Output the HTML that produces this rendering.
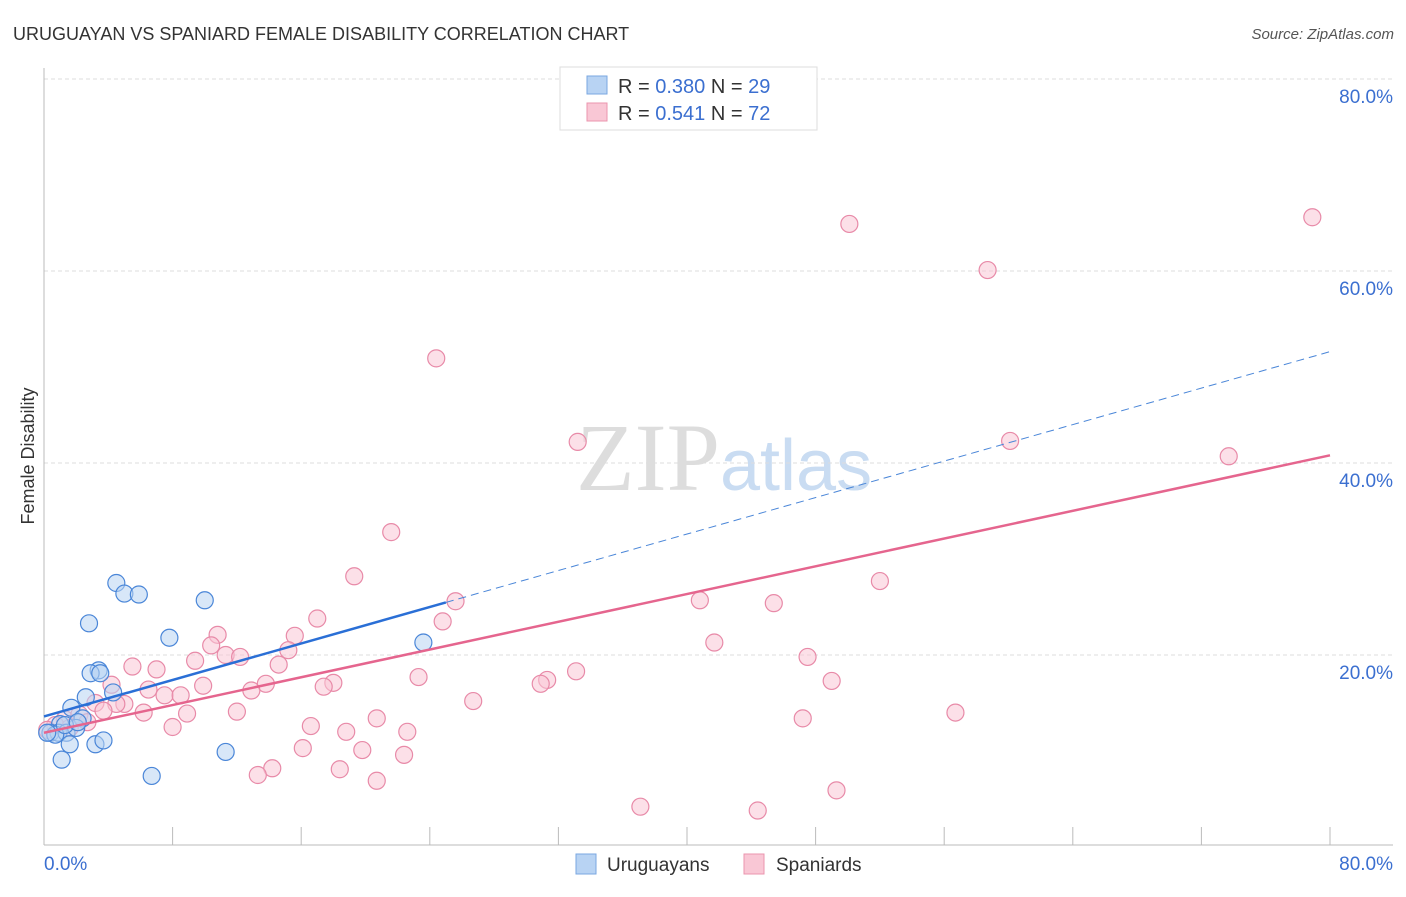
<!DOCTYPE html>
<html><head><meta charset="utf-8"><style>
body{margin:0;background:#fff;font-family:"Liberation Sans",sans-serif;}
</style></head><body>
<svg width="1406" height="892" xmlns="http://www.w3.org/2000/svg" font-family="Liberation Sans, sans-serif">
<text x="13" y="40" font-size="18" fill="#333">URUGUAYAN VS SPANIARD FEMALE DISABILITY CORRELATION CHART</text>
<text x="1394" y="39" font-size="15" fill="#555" font-style="italic" text-anchor="end">Source: ZipAtlas.com</text>
<text x="720" y="490" font-size="96" fill="#ddd" text-anchor="end" font-family="Liberation Serif, serif">ZIP</text>
<text x="720" y="490" font-size="72" fill="#c9dcf2">atlas</text>
<g id="grid"></g>
<g id="axes"></g>
<g id="marks"></g>
<text x="34" y="456" font-size="18" fill="#333" text-anchor="middle" transform="rotate(-90 34 456)">Female Disability</text>
<g>
<rect x="560" y="67" width="257" height="63" fill="#fff" stroke="#ddd"/>
<rect x="587" y="76" width="20" height="18" fill="#b8d3f3" stroke="#7aa7e0"/>
<rect x="587" y="103" width="20" height="18" fill="#f9c7d5" stroke="#eb94ae"/>
<text x="618" y="93" font-size="20" fill="#333">R = <tspan fill="#3b6fd0">0.380</tspan>   N = <tspan fill="#3b6fd0">29</tspan></text>
<text x="618" y="120" font-size="20" fill="#333">R =  <tspan fill="#3b6fd0">0.541</tspan>   N = <tspan fill="#3b6fd0">72</tspan></text>
</g>
<g>
<rect x="576" y="854" width="20" height="20" fill="#b8d3f3" stroke="#7aa7e0"/>
<text x="607" y="871" font-size="19" fill="#333">Uruguayans</text>
<rect x="744" y="854" width="20" height="20" fill="#f9c7d5" stroke="#eb94ae"/>
<text x="776" y="871" font-size="19" fill="#333">Spaniards</text>
</g>
</svg>
<script>
const yTicks=[20,40,60,80];
const yTickLabels=["20.0%","40.0%","60.0%","80.0%"];
const xTickCount=10;
const blueX=[4.5,5.0,5.9,10.0,2.8,7.8,23.6,3.4,2.9,3.5,4.3,2.6,1.7,2.4,1.0,0.4,0.9,1.4,2.0,1.6,3.2,3.7,1.1,11.3,6.7,0.7,0.2,1.3,2.1];
const blueY=[27.5,26.4,26.3,25.7,23.3,21.8,21.3,18.4,18.1,18.1,16.1,15.6,14.5,13.4,12.8,11.9,11.9,11.9,12.4,10.7,10.7,11.1,9.1,9.9,7.4,11.7,11.9,12.7,13.0];
const pinkX=[50.1,78.9,58.7,24.4,33.2,60.1,73.7,21.6,19.3,52.0,25.6,40.8,45.4,17.0,24.8,10.8,15.6,41.7,10.4,15.2,9.4,11.3,12.2,14.6,47.5,5.5,7.0,33.1,23.3,31.3,30.9,49.0,18.0,17.4,13.8,9.9,6.5,4.2,7.5,8.5,12.9,26.7,3.2,5.0,4.5,3.7,6.2,8.9,12.0,56.7,47.2,20.7,16.6,18.8,22.6,8.0,1.3,2.2,0.7,1.6,2.7,0.2,16.1,19.8,22.4,14.2,18.4,13.3,20.7,37.1,44.4,49.3];
const pinkY=[64.9,65.6,60.1,50.9,42.2,42.3,40.7,32.8,28.2,27.7,25.6,25.7,25.4,23.8,23.5,22.1,22.0,21.3,21.0,20.5,19.4,20.0,19.8,19.0,19.8,18.8,18.5,18.3,17.7,17.4,17.0,17.3,17.1,16.7,17.0,16.8,16.4,16.9,15.8,15.8,16.3,15.2,15.0,14.9,14.9,14.2,14.0,13.9,14.1,14.0,13.4,13.4,12.6,12.0,12.0,12.5,13.3,13.8,12.7,12.4,13.0,12.2,10.3,10.1,9.6,8.2,8.1,7.5,6.9,4.2,3.8,5.9];
const blueTrend=[13.6,51.6]; // y at x=0 and x=80
const blueSolidEnd=25;
const pinkTrend=[11.9,40.8];
const NS="http://www.w3.org/2000/svg";
const X=v=>44+v*1286/80, Y=v=>847-v*9.6;
function mk(t,a,p){const e=document.createElementNS(NS,t);for(const k in a)e.setAttribute(k,a[k]);p.appendChild(e);return e;}
const grid=document.getElementById('grid'),axes=document.getElementById('axes'),marks=document.getElementById('marks');
yTicks.forEach((t,i)=>{
 const l=mk('line',{x1:44,x2:1393,y1:Y(t),y2:Y(t),stroke:'#ddd','stroke-dasharray':'4,3'},grid);
 
 
 const tx=mk('text',{x:1393,y:Y(t)+24,'font-size':19,fill:'#3b6fd0','text-anchor':'end'},grid);
 tx.textContent=yTickLabels[i];
 
 
});
let a=mk('line',{x1:44,x2:44,y1:68,y2:845,stroke:'#bbb'},axes);


a=mk('line',{x1:44,x2:1393,y1:845,y2:845,stroke:'#bbb'},axes);


for(let i=1;i<=xTickCount;i++){const t=mk('line',{x1:X(i*8),x2:X(i*8),y1:827,y2:845,stroke:'#bbb'},axes);
 
 }
let xl=mk('text',{x:44,y:870,'font-size':19,fill:'#3b6fd0'},axes);xl.textContent='0.0%';


xl=mk('text',{x:1393,y:870,'font-size':19,fill:'#3b6fd0','text-anchor':'end'},axes);xl.textContent='80.0%';


function dots(xs,ys,fill,stroke,name){xs.forEach((x,i)=>{const c=mk('circle',{cx:X(x),cy:Y(ys[i]),r:8.5,fill:fill,'fill-opacity':0.55,stroke:stroke,'stroke-width':1.2},marks);
 
 });}
dots(pinkX,pinkY,'#f9c7d5','#e88aa8','spaniard-point');
dots(blueX,blueY,'#b8d3f3','#4a86d8','uruguayan-point');
const bAt=x=>blueTrend[0]+(blueTrend[1]-blueTrend[0])*x/80;
let tl=mk('line',{x1:X(0),y1:Y(bAt(0)),x2:X(blueSolidEnd),y2:Y(bAt(blueSolidEnd)),stroke:'#2a6fd6','stroke-width':2.5},marks);


tl=mk('line',{x1:X(blueSolidEnd),y1:Y(bAt(blueSolidEnd)),x2:X(80),y2:Y(bAt(80)),stroke:'#4a86d8','stroke-width':1,'stroke-dasharray':'8,5'},marks);


tl=mk('line',{x1:X(0),y1:Y(pinkTrend[0]),x2:X(80),y2:Y(pinkTrend[1]),stroke:'#e5658e','stroke-width':2.5},marks);


</script>
</body></html>
